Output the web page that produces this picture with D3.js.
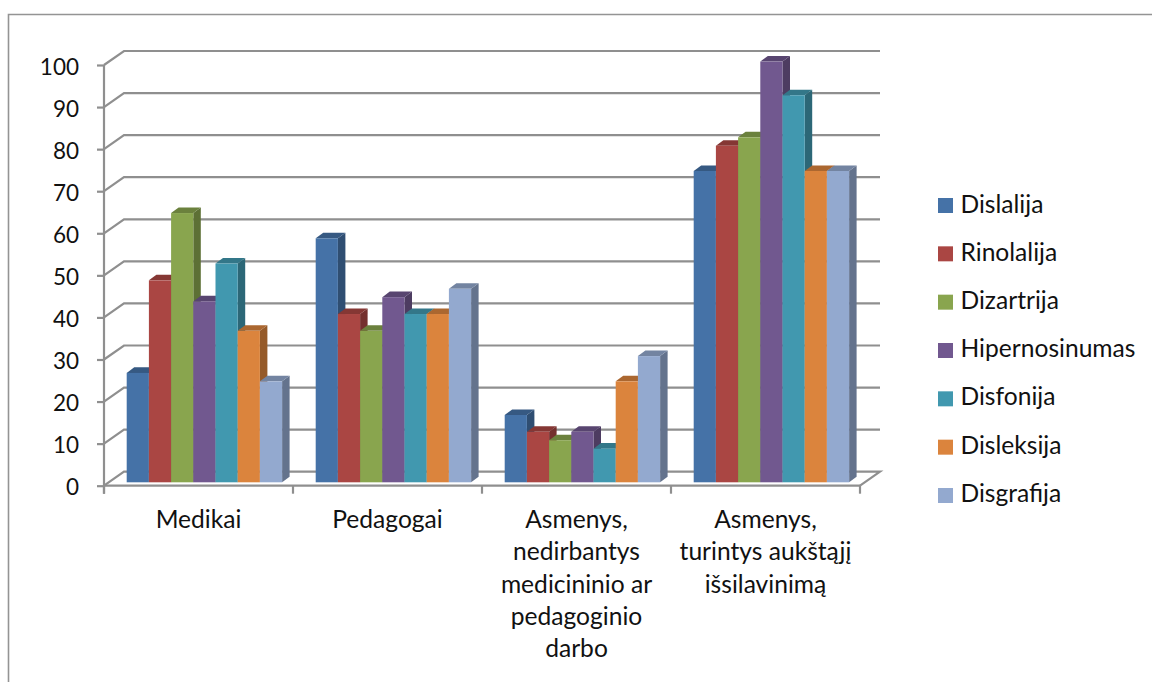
<!DOCTYPE html>
<html><head><meta charset="utf-8">
<script src="https://cdn.jsdelivr.net/npm/d3@7"></script>
<style>html,body{margin:0;padding:0;background:#fff}svg{display:block}text{font-family:Lato,"Open Sans",sans-serif;fill:#111}</style>
</head><body><svg id="c" width="1152" height="682"></svg>
<script>
const categories=[["Medikai"],["Pedagogai"],["Asmenys,","nedirbantys","medicininio ar","pedagoginio","darbo"],["Asmenys,","turintys aukštąjį","išsilavinimą"]];
const seriesNames=["Dislalija","Rinolalija","Dizartrija","Hipernosinumas","Disfonija","Disleksija","Disgrafija"];
const Dislalija=[26,58,16,74];
const Rinolalija=[48,40,12,80];
const Dizartrija=[64,36,10,82];
const Hipernosinumas=[43,44,12,100];
const Disfonija=[52,40,8,92];
const Disleksija=[36,40,24,74];
const Disgrafija=[24,46,30,74];
const seriesValues=[Dislalija,Rinolalija,Dizartrija,Hipernosinumas,Disfonija,Disleksija,Disgrafija];
const colors=["#4572a7","#aa4643","#89a54e","#71588f","#4198af","#db843d","#93a9cf"];
const yTicks=d3.range(0,101,10);

const svg=d3.select("#c");
const GRID="#8f8f8f", dx=20, dy=-14, bdx=7.5, bdy=-5.6, barLift=-3.4, FS=24.6;
const y=d3.scaleLinear().domain([0,100]).range([485.7,65]);
const x0=d3.scaleBand().domain(d3.range(4)).range([104,860]);
const x1=d3.scaleBand().domain(d3.range(7)).range([22.7,178.1]);

// frame
svg.append("path").attr("d","M8.5,682V14.5H1152").attr("fill","none").attr("stroke","#949494").attr("stroke-width",1.6);

// walls
const g=svg.append("g").attr("fill","none").attr("stroke",GRID).attr("stroke-width",2.2);
yTicks.forEach(t=>{
  g.append("path").attr("d",`M${104},${y(t)}L${104+dx},${y(t)+dy}`+(t>0?`H${860+dx}`:`H${860+dx}L860,${y(t)}`));
});
g.append("path").attr("d",`M104,${y(0)}H860`);

// axes
const ay=svg.append("g").attr("transform","translate(104,0)").call(d3.axisLeft(y).tickValues(yTicks).tickSize(7).tickPadding(18).tickSizeOuter(0));
ay.selectAll("path,line").attr("stroke",GRID).attr("stroke-width",2.2);
ay.selectAll("text").attr("font-size",22.5).attr("fill","#111").attr("dy","0.4em").style("font-family","Lato");
ay.select(".domain").attr("d",`M0,${y(100)}V${y(0)+8}`);
const ax=svg.append("g").attr("transform",`translate(0,${y(0)})`);
x0.domain().concat([4]).forEach(i=>{
  const xx=i<4?x0(i):860;
  ax.append("line").attr("x1",xx).attr("x2",xx).attr("y1",0).attr("y2",8).attr("stroke",GRID).attr("stroke-width",2.2);
});

// bars
const bars=svg.append("g");
d3.range(4).forEach(c=>{
  seriesValues.forEach((vals,s)=>{
    const l=x0(c)+x1(s), w=x1.bandwidth();
    const top=y(vals[c])+barLift, bot=y(0)+barLift, col=d3.color(colors[s]);
    const side=d3.rgb(col.r*.68,col.g*.68,col.b*.68)+"", up=d3.rgb(col.r*.78,col.g*.78,col.b*.78)+"";
    bars.append("path").attr("fill",side).attr("d",`M${l+w},${top}l${bdx},${bdy}V${bot+bdy}l${-bdx},${-bdy}Z`);
    bars.append("path").attr("fill",up).attr("d",`M${l},${top}l${bdx},${bdy}h${w}l${-bdx},${-bdy}Z`);
    bars.append("rect").attr("x",l).attr("y",top).attr("width",w).attr("height",bot-top).attr("fill",colors[s]);
  });
});

// category labels
categories.forEach((lines,i)=>{
  const t=svg.append("text").attr("text-anchor","middle").attr("font-size",FS);
  lines.forEach((ln,k)=>t.append("tspan").attr("x",x0(i)+x0.bandwidth()/2).attr("y",528+k*32.3).text(ln));
});

// legend
const ly=d3.scalePoint().domain(seriesNames).range([205.5,495.5]);
const lt=d3.scalePoint().domain(seriesNames).range([213,501.7]);
seriesNames.forEach((n,i)=>{
  svg.append("rect").attr("x",938).attr("y",ly(n)-7.5).attr("width",15).attr("height",15).attr("fill",colors[i]);
  svg.append("text").attr("x",960.5).attr("y",lt(n)).attr("font-size",FS).text(n);
});
</script></body></html>
